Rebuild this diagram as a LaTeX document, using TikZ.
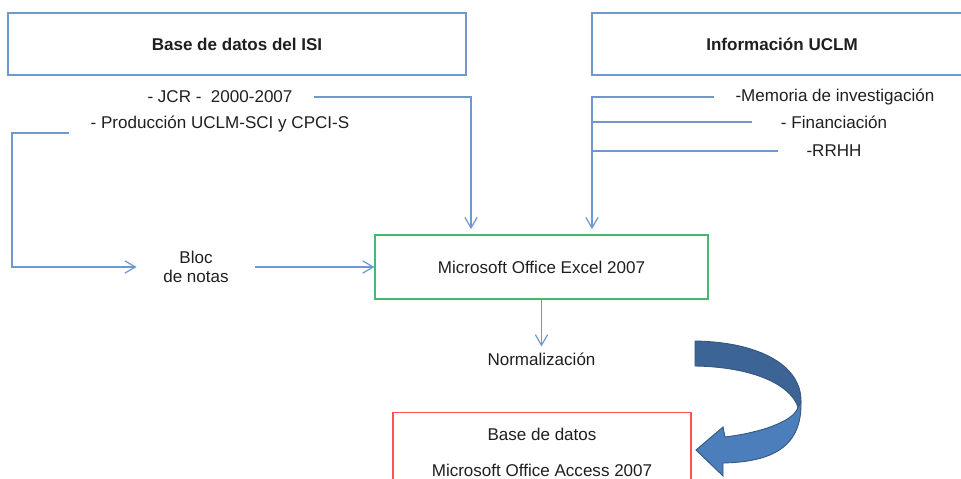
\documentclass[tikz,border=0pt]{standalone}
\usepackage{fontspec}
\setmainfont{Liberation Sans}
\usetikzlibrary{arrows.meta}
\definecolor{lineblue}{RGB}{110,152,206}
\definecolor{boxgreen}{RGB}{70,185,110}
\definecolor{boxred}{RGB}{250,85,85}
\definecolor{arrowdark}{RGB}{60,100,148}
\definecolor{arrowlight}{RGB}{76,126,187}
\definecolor{arrowedge}{RGB}{52,86,130}

\begin{document}
\begin{tikzpicture}[x=0.02cm, y=-0.02cm,
  font=\fontsize{9.7}{10.8}\selectfont,
  every node/.style={text=black!88},
  box/.style={draw=lineblue, line width=0.7pt, minimum height=1.24cm},
  item/.style={inner xsep=12pt},
  conn/.style={draw=lineblue, line width=0.7pt},
  tip/.style={-{Straight Barb[length=6pt,width=7pt]}}]

\useasboundingbox (0,0) rectangle (961,479);

%---------------------------------------
% Sources
%---------------------------------------
\node[box, minimum width=9.16cm, font=\fontsize{9.7}{10.8}\selectfont\bfseries]
  (isi) at (237,44) {Base de datos del ISI};
\node[box, minimum width=7.6cm, font=\fontsize{9.7}{10.8}\selectfont\bfseries]
  (uclm) at (782,44) {Información UCLM};

\node[item] (jcr)  at (220,97)  {- JCR -~~2000-2007};
\node[item] (prod) at (220,124) {- Producción UCLM-SCI y CPCI-S};

\node[item] (memoria) at (835,97) {-Memoria de investigación};
\node[item, inner xsep=16pt] (fin)  at (834,122) {- Financiación};
\node[item, inner xsep=16pt] (rrhh) at (834,151) {-RRHH};

%---------------------------------------
% Processing
%---------------------------------------
\node[inner xsep=15pt, align=center] (bloc) at (196,267) {Bloc\\de notas};
\node[draw=boxgreen, line width=0.7pt, minimum width=6.66cm, minimum height=1.28cm]
  (excel) at (541.5,267) {Microsoft Office Excel 2007};
\node (norm) at (541.5,359) {Normalización};
\node[draw=boxred, line width=0.7pt, minimum width=5.96cm, minimum height=1.6cm, align=center]
  (access) at (542,452.5) {Base de datos\\[9.6pt]Microsoft Office Access 2007};

%---------------------------------------
% Connectors
%---------------------------------------
\coordinate (drop)  at ([xshift=-1.41cm]excel.north);
\coordinate (trunk) at ([xshift=1.01cm]excel.north);
\coordinate (bend)  at (12,0);

\draw[conn, tip, shorten >=3pt] (jcr.east) -| (drop);
\draw[conn, tip] ([yshift=-0.18cm]prod.west) -| (bloc.west -| bend) -- (bloc.west);
\draw[conn, tip] (bloc.east) -- (excel.west);

\draw[conn, tip, shorten >=3pt] (memoria.west) -| (trunk);
\draw[conn] (fin.west) -- (fin.west -| trunk);
\draw[conn] (rrhh.west) -- (rrhh.west -| trunk);

\draw[conn, tip] (excel.south) -- (norm.north);

% Curved block arrow towards the database
\filldraw[fill=arrowlight, draw=arrowedge, line width=0.5pt]
  (801,402) .. controls (802,445) and (775,462) .. (723,463)
  -- (723,476) -- (696,450) -- (723,427) -- (725,437)
  .. controls (765,432) and (795,420) .. (798,407) -- cycle;
\filldraw[fill=arrowdark, draw=arrowedge, line width=0.5pt]
  (695,341) .. controls (760,342) and (802,366) .. (801,402)
  -- (798,407)
  .. controls (790,384) and (752,367) .. (695,366) -- cycle;

\end{tikzpicture}
\end{document}
